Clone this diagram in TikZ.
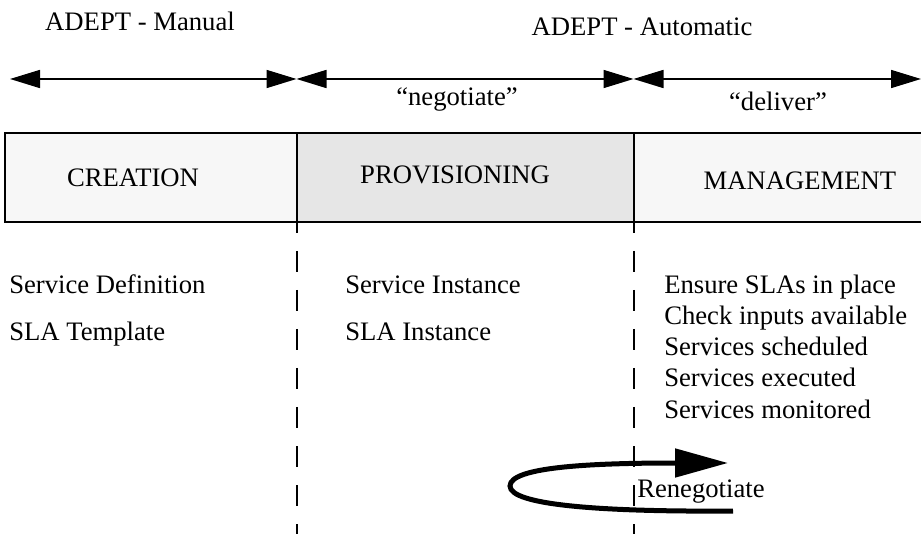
\documentclass[tikz,border=0pt]{standalone}
\usepackage{fontspec}
\setmainfont{Liberation Serif}
\usetikzlibrary{arrows.meta,positioning,calc}
\definecolor{phasegray}{RGB}{247,247,247}
\definecolor{provgray}{RGB}{230,230,230}

\begin{document}
\begin{tikzpicture}[x=0.75pt, y=-0.75pt,
  font=\fontsize{20}{24}\selectfont,
  txt/.style={inner sep=0pt, anchor=base west},
  ctxt/.style={inner sep=0pt, anchor=base},
  phase/.style={draw, line width=1.1pt, fill=phasegray, anchor=north west,
                minimum height=66.75pt, inner sep=0pt, outer sep=0pt},
  span/.style={{Triangle[length=22.5pt,width=13.5pt]}-{Triangle[length=22.5pt,width=13.5pt]},
               line width=1.2pt},
  divider/.style={line width=1.1pt, dash pattern=on 15.75pt off 13.5pt, dash phase=7.5pt},
  loopback/.style={-{Triangle[length=39.75pt,width=21pt]}, line width=3.75pt}]
\useasboundingbox (0,0) rectangle (921,534);

% phase boxes
\node[phase, minimum width=219pt] (creation) at (5,133) {};
\node[phase, minimum width=252.75pt, fill=provgray] (provision) at (creation.north east) {};
\node[phase, minimum width=222pt] (manage) at (provision.north east) {};
\node[ctxt] (creationlbl) at (133,187) {CREATION};
\node[ctxt] (provisionlbl) at (455,184) {PROVISIONING};
\node[ctxt] (managelbl) at (800,190) {MANAGEMENT};

% manual / automatic spans
\node[ctxt] (manual) at (140,31) {ADEPT - Manual};
\node[ctxt] (auto) at (642,36) {ADEPT - Automatic};
\coordinate (s0) at (10,79);
\coordinate (s1) at (296.5,79);
\coordinate (s2) at (633.5,79);
\coordinate (s3) at (921,79);
\draw[span] (s0) -- (s1);
\draw[span] (s1) -- (s2);
\draw[span] (s2) -- (s3);
\node[ctxt] (negotiate) at (457,106) {``negotiate''};
\node[ctxt] (deliver) at (778,111) {``deliver''};

% dashed phase borders
\coordinate (floor) at (0,534);
\draw[divider] (creation.south east) -- (creation.south east |- floor);
\draw[divider] (provision.south east) -- (provision.south east |- floor);

% what each phase holds
\node[txt] (servdef) at (9,294) {Service Definition};
\node[txt] (slatpl) at (9,341) {SLA Template};
\node[txt] (servinst) at (345,294) {Service Instance};
\node[txt] (slainst) at (345,341) {SLA Instance};
\node[txt] (ensure) at (664,294) {Ensure SLAs in place};
\node[txt] (check) at (664,325) {Check inputs available};
\node[txt] (sched) at (664,356) {Services scheduled};
\node[txt] (exec) at (664,387) {Services executed};
\node[txt] (monit) at (664,419) {Services monitored};

% renegotiation loop
\node[txt] (reneg) at (637,497) {Renegotiate};
\coordinate (loopstart) at (733,511);
\coordinate (looptip) at (728,463);
\draw[loopback] (loopstart) .. controls (600,512) and (510,505) .. (510,486)
  .. controls (510,467) and (590,463) .. (looptip);
\end{tikzpicture}
\end{document}
